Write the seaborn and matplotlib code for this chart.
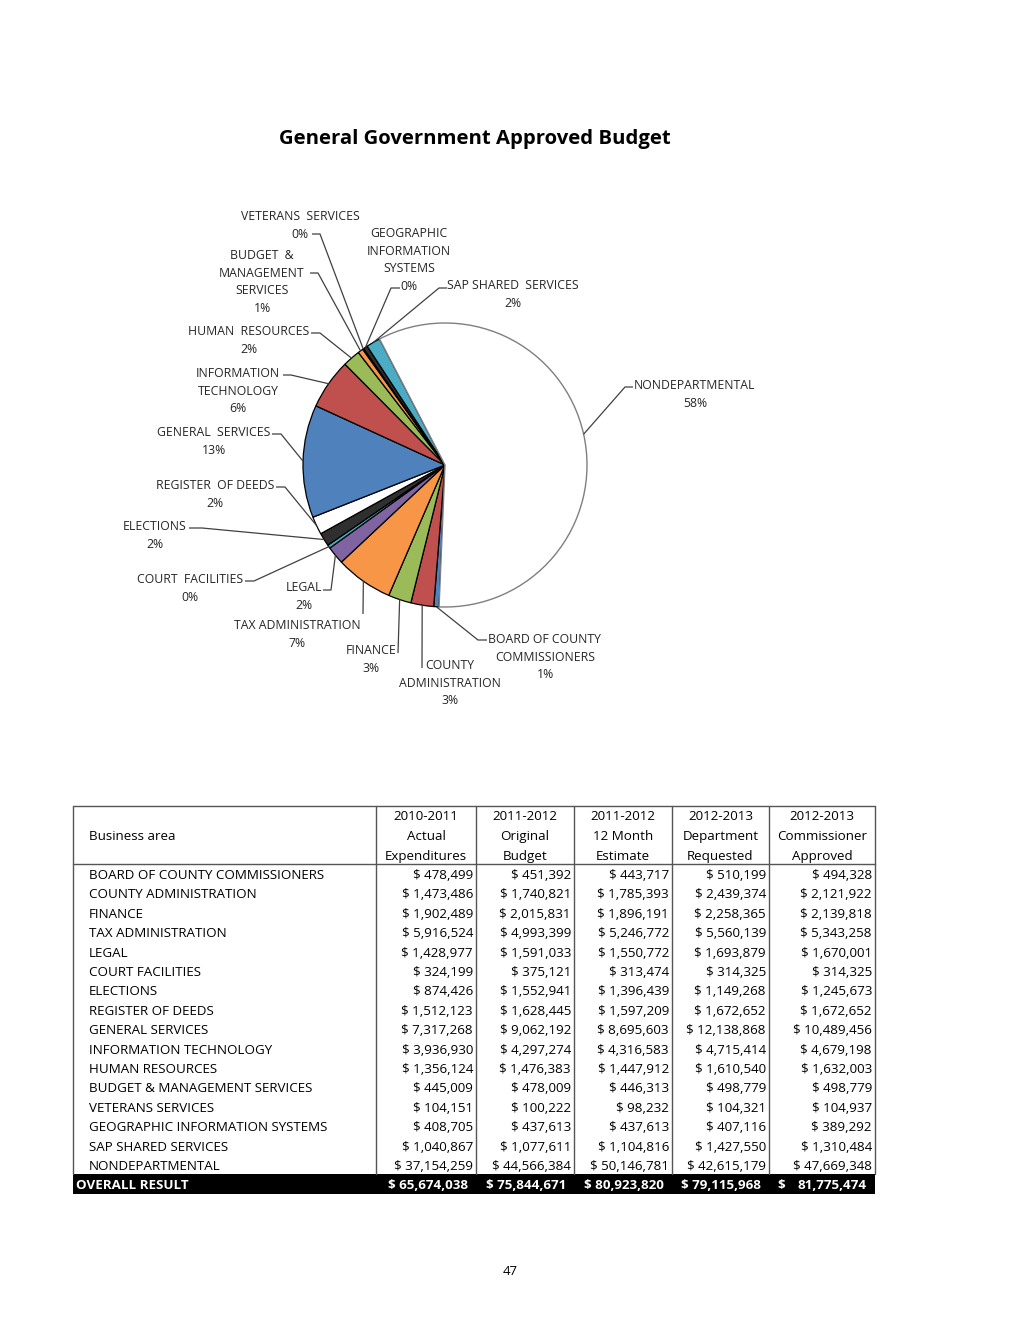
import numpy as np
import matplotlib
matplotlib.use("Agg")
import matplotlib.pyplot as plt
import seaborn as sns

# ---------------- data ----------------
areas = ["BOARD OF COUNTY COMMISSIONERS", "COUNTY ADMINISTRATION", "FINANCE",
         "TAX ADMINISTRATION", "LEGAL", "COURT FACILITIES", "ELECTIONS",
         "REGISTER OF DEEDS", "GENERAL SERVICES", "INFORMATION TECHNOLOGY",
         "HUMAN RESOURCES", "BUDGET & MANAGEMENT SERVICES", "VETERANS SERVICES",
         "GEOGRAPHIC INFORMATION SYSTEMS", "SAP SHARED SERVICES", "NONDEPARTMENTAL"]
actual_2010_2011 = [478499, 1473486, 1902489, 5916524, 1428977, 324199, 874426, 1512123,
                    7317268, 3936930, 1356124, 445009, 104151, 408705, 1040867, 37154259]
original_2011_2012 = [451392, 1740821, 2015831, 4993399, 1591033, 375121, 1552941, 1628445,
                      9062192, 4297274, 1476383, 478009, 100222, 437613, 1077611, 44566384]
estimate_2011_2012 = [443717, 1785393, 1896191, 5246772, 1550772, 313474, 1396439, 1597209,
                      8695603, 4316583, 1447912, 446313, 98232, 437613, 1104816, 50146781]
requested_2012_2013 = [510199, 2439374, 2258365, 5560139, 1693879, 314325, 1149268, 1672652,
                       12138868, 4715414, 1610540, 498779, 104321, 407116, 1427550, 42615179]
approved_2012_2013 = [494328, 2121922, 2139818, 5343258, 1670001, 314325, 1245673, 1672652,
                      10489456, 4679198, 1632003, 498779, 104937, 389292, 1310484, 47669348]
overall_result = [65674038, 75844671, 80923820, 79115968, 81775474]
column_headers = [["2010-2011", "Actual", "Expenditures"],
                  ["2011-2012", "Original", "Budget"],
                  ["2011-2012", "12 Month", "Estimate"],
                  ["2012-2013", "Department", "Requested"],
                  ["2012-2013", "Commissioner", "Approved"]]
pie_names = ["BOARD OF COUNTY\nCOMMISSIONERS", "COUNTY\nADMINISTRATION", "FINANCE",
             "TAX ADMINISTRATION", "LEGAL", "COURT  FACILITIES", "ELECTIONS",
             "REGISTER  OF DEEDS", "GENERAL  SERVICES", "INFORMATION\nTECHNOLOGY",
             "HUMAN  RESOURCES", "BUDGET  &\nMANAGEMENT\nSERVICES", "VETERANS  SERVICES",
             "GEOGRAPHIC\nINFORMATION\nSYSTEMS", "SAP SHARED  SERVICES", "NONDEPARTMENTAL"]
title = "General Government Approved Budget"
page_number = "47"

# ---------------- style ----------------
sns.set_theme(style="white")
plt.rcParams["font.family"] = ["Open Sans", "DejaVu Sans"]

W, H = 1020, 1320
fig = plt.figure(figsize=(W / 100, H / 100), dpi=100)
ax = fig.add_axes([0, 0, 1, 1])

TOFF = 1.8  # small vertical nudge for text baseline


def Y(y):
    return H - y


def TY(y):
    return H - y - TOFF


xl_blue, xl_red, xl_green = "#4F81BD", "#C0504D", "#9BBB59"
xl_orange, xl_purple, xl_cyan = "#F79646", "#8064A2", "#4BACC6"
dark = "#2F2F2F"
slice_colors = [xl_blue, xl_red, xl_green, xl_orange, xl_purple, xl_cyan, dark, "white",
                xl_blue, xl_red, xl_green, xl_orange, xl_purple, dark, xl_cyan, "white"]

cx, cy, R = 445, 465, 142
wedges, _ = ax.pie(approved_2012_2013, colors=slice_colors, startangle=267.6,
                   counterclock=False, center=(cx, Y(cy)), radius=R,
                   wedgeprops=dict(edgecolor="black", linewidth=0.9))
wedges[-1].set_edgecolor("#7f7f7f")
wedges[-1].set_linewidth(1.0)

total = sum(approved_2012_2013)
pcts = [f"{round(v / total * 100):.0f}%" for v in approved_2012_2013]

# label layout: text center x, first line y (pixels), leader polyline points from text side
label_pos = [(545, 638), (450, 664), (371, 649), (297, 624), (304, 586), (190, 578),
             (155, 525), (215, 484), (214, 431), (238, 372), (249, 330), (262, 254),
             (300, 215), (409, 232), (513, 284), (695, 384)]
leader_pts = [[(487, 640), (478, 640)], [(422, 668)], [(398, 653)], [(363, 614)],
              [(323, 590), (331, 590)], [(245, 581), (254, 581)], [(189, 528), (202, 528)],
              [(276, 487), (285, 487)], [(272, 434), (281, 434)], [(283, 375), (291, 375)],
              [(311, 333), (320, 333)], [(310, 273), (318, 273)], [(312, 234), (320, 234)],
              [(400, 288), (391, 288)], [(447, 288), (439, 288)], [(633, 387), (625, 387)]]
line_dy = 17.6
txt_color = "#262626"

for w, name, pct, (tx, ty), pts in zip(wedges, pie_names, pcts, label_pos, leader_pts):
    mid = np.deg2rad((w.theta1 + w.theta2) / 2)
    ax_x = cx + R * np.cos(mid)
    ax_y = Y(cy) + R * np.sin(mid)
    xs = [p[0] for p in pts] + [ax_x]
    ys = [Y(p[1]) for p in pts] + [ax_y]
    ax.plot(xs, ys, color="#404040", lw=0.9, solid_capstyle="butt")
    lines = name.split("\n") + [pct]
    for i, ln in enumerate(lines):
        ax.text(tx, TY(ty + i * line_dy), ln, ha="center", va="center",
                fontsize=8.8, color=txt_color)

# title
ax.text(475, TY(137), title, ha="center", va="center", fontsize=14.6, fontweight="bold",
        color="black")

# ---------------- table ----------------
tl, tr = 73, 875
col_edges = [tl, 376, 476, 574, 672, 769, tr]
top, head_bot = 806, 864
row_h = 19.4
n = len(areas)
data_bot = head_bot + row_h * n
bot = data_bot + row_h
lc = "#555555"
tfs = 9.6

ax.plot([tl, tr], [Y(top), Y(top)], color=lc, lw=1.0)
ax.plot([tl, tr], [Y(head_bot), Y(head_bot)], color=lc, lw=1.0)
for x in col_edges:
    ax.plot([x, x], [Y(top), Y(data_bot)], color=lc, lw=1.0)
ax.fill_between([tl, tr], Y(data_bot), Y(bot), color="black", lw=0)

ax.text(89, TY(835), "Business area", ha="left", va="center", fontsize=tfs, color="black")
for j, hdr in enumerate(column_headers):
    xc = (col_edges[j + 1] + col_edges[j + 2]) / 2
    for k, h in enumerate(hdr):
        ax.text(xc, TY(815 + k * 20), h, ha="center", va="center", fontsize=tfs,
                color="black")

columns = [actual_2010_2011, original_2011_2012, estimate_2011_2012,
           requested_2012_2013, approved_2012_2013]
for i, name in enumerate(areas):
    yc = head_bot + row_h * (i + 0.5)
    ax.text(89, TY(yc), name, ha="left", va="center", fontsize=tfs, color="black")
    for j, col in enumerate(columns):
        ax.text(col_edges[j + 2] - 3, TY(yc), f"$ {col[i]:,}", ha="right", va="center",
                fontsize=tfs, color="black")

yc = data_bot + row_h / 2
ax.text(76, TY(yc), "OVERALL RESULT", ha="left", va="center", fontsize=tfs,
        fontweight="bold", color="white")
for j, v in enumerate(overall_result):
    if j < len(overall_result) - 1:
        ax.text(col_edges[j + 2] - 8, TY(yc), f"$ {v:,}", ha="right", va="center",
                fontsize=tfs, fontweight="bold", color="white")
    else:
        ax.text(col_edges[j + 1] + 8, TY(yc), "$", ha="left", va="center",
                fontsize=tfs, fontweight="bold", color="white")
        ax.text(col_edges[j + 2] - 8, TY(yc), f"{v:,}", ha="right", va="center",
                fontsize=tfs, fontweight="bold", color="white")

ax.text(510, TY(1270), page_number, ha="center", va="center", fontsize=9.5, color="black")

ax.set_xlim(0, W)
ax.set_ylim(0, H)
ax.set_aspect("auto")
ax.axis("off")
fig.savefig("out.png", dpi=100, facecolor="white")
